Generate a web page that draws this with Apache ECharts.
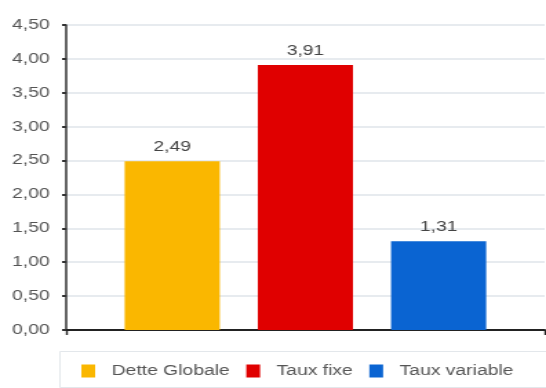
<!DOCTYPE html>
<html>
<head>
<meta charset="utf-8">
<script src="https://cdn.jsdelivr.net/npm/echarts@6/dist/echarts.min.js"></script>
<style>
  html, body { margin: 0; padding: 0; background: #ffffff; overflow: hidden; }
  /* l'image d'origine est étirée en largeur : on dessine sur 396px et on étire à 546px */
  #main { position: absolute; left: 0; top: 0; width: 396px; height: 388px;
    transform: scaleX(1.3788); transform-origin: 0 0; }
</style>
</head>
<body>
<div id="main"></div>
<script>
// valeurs
const seriesNames = ['Dette Globale', 'Taux fixe', 'Taux variable'];
const seriesValues = [2.49, 3.91, 1.31];
const seriesColors = ['#fab700', '#e00000', '#0a64d2'];
const categories = [''];

const fmt = v => v.toFixed(2).replace('.', ',');

const chart = echarts.init(document.getElementById('main'));

const option = {
    backgroundColor: '#ffffff',
    animation: false,
    textStyle: { fontFamily: 'Liberation Sans, Arial, sans-serif' },
    graphic: [{
        type: 'rect',
        left: 41,
        top: 349,
        shape: { width: 353, height: 36 },
        style: { fill: 'none', stroke: '#e3e7eb', lineWidth: 1 },
        silent: true
    }],
    legend: {
        left: 54,
        top: 359,
        itemWidth: 10,
        itemHeight: 13,
        itemGap: 12,
        icon: 'rect',
        textStyle: { color: '#555', fontSize: 14, padding: [0, 0, 0, 7] },
        data: seriesNames
    },
    grid: { left: 48, right: 1, top: 25, bottom: 58 },
    xAxis: {
        type: 'category',
        data: categories,
        axisLine: { lineStyle: { color: '#222', width: 2 } },
        axisTick: { show: true, length: 5, lineStyle: { color: '#222', width: 1.4 } },
        axisLabel: { show: false }
    },
    yAxis: {
        type: 'value',
        min: 0,
        max: 4.5,
        interval: 0.5,
        axisLine: { show: true, lineStyle: { color: '#333', width: 1.5 } },
        axisTick: { show: true, length: 3, lineStyle: { color: '#333', width: 2 } },
        axisLabel: { color: '#555', fontSize: 14, margin: 12, formatter: v => fmt(v) },
        splitLine: { lineStyle: { color: '#dfe4ea', width: 1.5 } }
    },
    series: seriesNames.map((name, i) => ({
        name: name,
        type: 'bar',
        barWidth: 69,
        barGap: '40%',
        itemStyle: { color: seriesColors[i] },
        label: {
            show: true,
            position: 'top',
            distance: 7,
            color: '#444',
            fontSize: 14,
            formatter: p => fmt(p.value)
        },
        data: [seriesValues[i]]
    }))
};

chart.setOption(option);
</script>
</body>
</html>
